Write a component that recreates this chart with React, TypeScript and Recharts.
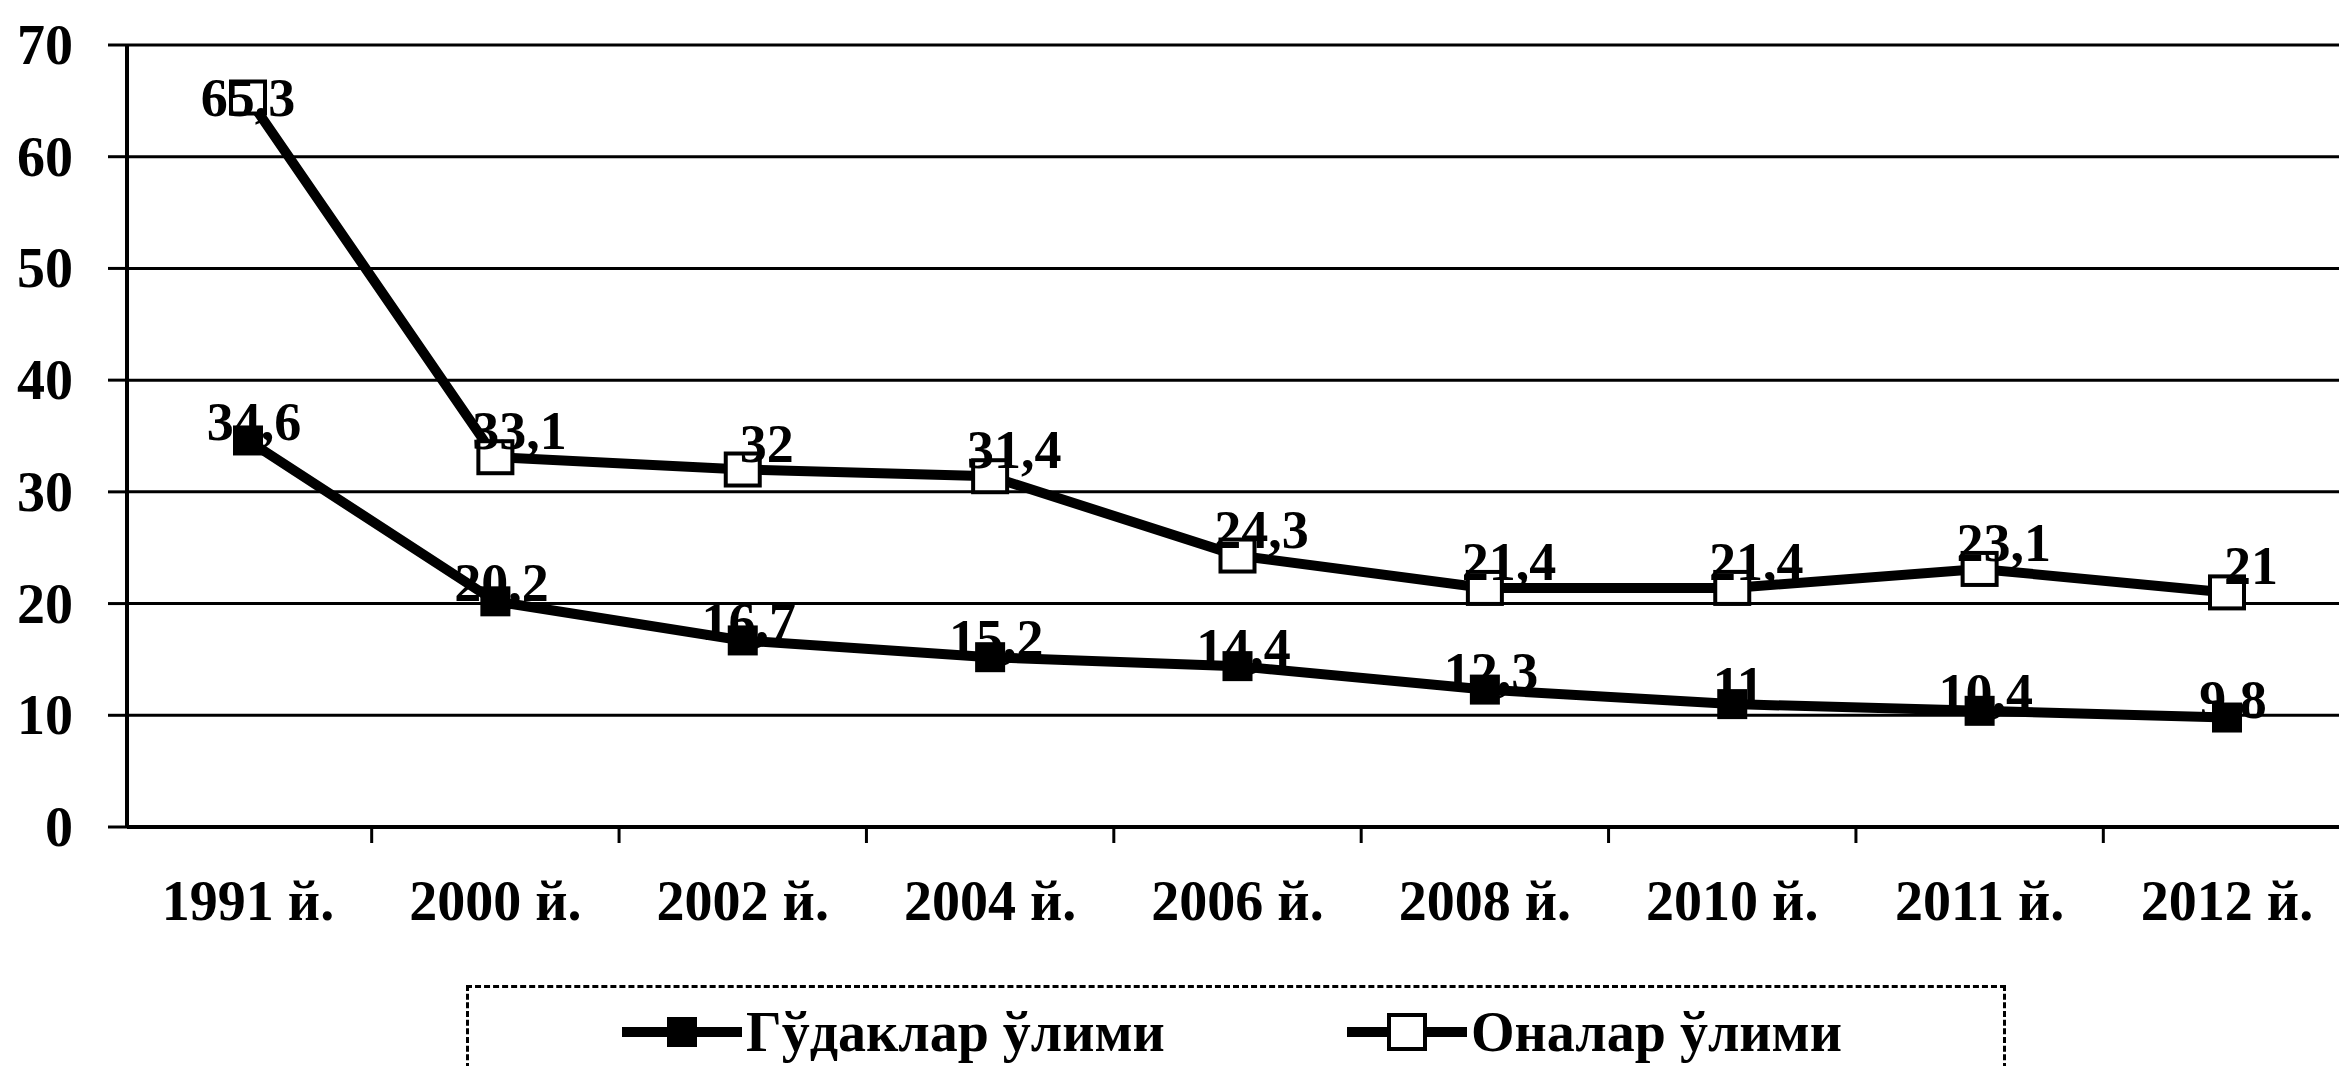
import { LineChart, Line, XAxis, YAxis, CartesianGrid, Legend, LabelList } from 'recharts';

const years = ['1991 й.', '2000 й.', '2002 й.', '2004 й.', '2006 й.', '2008 й.', '2010 й.', '2011 й.', '2012 й.'];
const infantDeaths = [34.6, 20.2, 16.7, 15.2, 14.4, 12.3, 11, 10.4, 9.8];
const maternalDeaths = [65.3, 33.1, 32, 31.4, 24.3, 21.4, 21.4, 23.1, 21];
const yTicks = [0, 10, 20, 30, 40, 50, 60, 70];

const INFANT = 'Гўдаклар ўлими';
const MATERNAL = 'Оналар ўлими';

const data = years.map((year, i) => ({
  year,
  infant: infantDeaths[i],
  maternal: maternalDeaths[i],
}));

const W = 2339;
const H = 1066;
const TOP = 45;
const Y_AXIS_W = 127;
const PAD_L = 121;
const PAD_R = 112;
const STEP = (W - Y_AXIS_W - PAD_L - PAD_R) / (years.length - 1);
const FONT = '"Liberation Serif", "Times New Roman", serif';

const fmt = (v: number) => String(v).replace('.', ',');

const XTick = (props: any) => {
  const { x, y, payload, index } = props;
  return (
    <g>
      {index > 0 && <line x1={x - STEP / 2} x2={x - STEP / 2} y1={y} y2={y + 14} stroke="#000" strokeWidth={3} />}
      <text
        x={x}
        y={y + 72}
        textAnchor="middle"
        dominantBaseline="central"
        fontFamily={FONT}
        fontWeight="bold"
        fontSize={56}
        fill="#000"
      >
        {payload.value}
      </text>
    </g>
  );
};

const YTick = (props: any) => {
  const { x, y, payload } = props;
  return (
    <text x={x} y={y} textAnchor="end" dominantBaseline="central" fontFamily={FONT} fontWeight="bold" fontSize={56} fill="#000">
      {payload.value}
    </text>
  );
};

// label sits above-right of the point; if that would run into the top of the plot it is centred on the marker
const makeLabel = (dx: number, dy: number) => (props: any) => {
  const { x, y, value } = props;
  const tooHigh = y + dy < TOP + 50;
  return (
    <text
      x={tooHigh ? x : x + dx}
      y={tooHigh ? y : y + dy}
      textAnchor="middle"
      dominantBaseline="central"
      fontFamily={FONT}
      fontWeight="bold"
      fontSize={54}
      fill="#000"
    >
      {fmt(value)}
    </text>
  );
};

const InfantLabel = makeLabel(6, -18);
const MaternalLabel = makeLabel(24, -26);

const FilledDot = (props: any) => {
  const { cx, cy } = props;
  return <rect x={cx - 15} y={cy - 15} width={30} height={30} fill="#000" />;
};

const HollowDot = (props: any) => {
  const { cx, cy } = props;
  return <rect x={cx - 17} y={cy - 16} width={34} height={32} fill="#fff" stroke="#000" strokeWidth={4} />;
};

const LegendBox = () => (
  <div
    style={{
      width: 1540,
      height: 110,
      border: '3px dashed #000',
      boxSizing: 'border-box',
      position: 'relative',
      fontFamily: FONT,
      fontWeight: 'bold',
      fontSize: 56,
      color: '#000',
    }}
  >
    {[
      { name: INFANT, left: 153, filled: true },
      { name: MATERNAL, left: 878, filled: false },
    ].map((item) => (
      <div key={item.name} style={{ position: 'absolute', left: item.left, top: 12, display: 'flex', alignItems: 'center', whiteSpace: 'nowrap' }}>
        <svg width={120} height={40}>
          <line x1={0} x2={120} y1={20} y2={20} stroke="#000" strokeWidth={10} />
          {item.filled ? (
            <rect x={45} y={5} width={30} height={30} fill="#000" />
          ) : (
            <rect x={42} y={3} width={36} height={34} fill="#fff" stroke="#000" strokeWidth={4} />
          )}
        </svg>
        <span style={{ marginLeft: 4, lineHeight: '64px' }}>{item.name}</span>
      </div>
    ))}
  </div>
);

export default function App() {
  return (
    <div style={{ position: 'absolute', left: 0, top: 0, width: W, height: H, background: '#fff', overflow: 'hidden' }}>
      <LineChart width={W} height={H} data={data} margin={{ top: TOP, right: 0, left: 0, bottom: 119 }}>
        <CartesianGrid vertical={false} stroke="#000" strokeWidth={3} />
        <XAxis
          dataKey="year"
          scale="point"
          padding={{ left: PAD_L, right: PAD_R }}
          axisLine={{ stroke: '#000', strokeWidth: 4 }}
          tickLine={false}
          tickSize={0}
          tick={<XTick />}
          interval={0}
          height={120}
        />
        <YAxis
          domain={[0, 70]}
          ticks={yTicks}
          width={Y_AXIS_W}
          axisLine={{ stroke: '#000', strokeWidth: 4 }}
          tickLine={{ stroke: '#000', strokeWidth: 3 }}
          tickSize={19}
          tickMargin={35}
          tick={<YTick />}
        />
        <Legend
          layout="vertical"
          align="center"
          verticalAlign="middle"
          wrapperStyle={{ position: 'absolute', left: 466, top: 985, width: 1540 }}
          content={<LegendBox />}
        />
        <Line
          dataKey="infant"
          name={INFANT}
          type="linear"
          stroke="#000"
          strokeWidth={10}
          dot={<FilledDot />}
          isAnimationActive={false}
        >
          <LabelList dataKey="infant" content={<InfantLabel />} />
        </Line>
        <Line
          dataKey="maternal"
          name={MATERNAL}
          type="linear"
          stroke="#000"
          strokeWidth={10}
          dot={<HollowDot />}
          isAnimationActive={false}
        >
          <LabelList dataKey="maternal" content={<MaternalLabel />} />
        </Line>
      </LineChart>
    </div>
  );
}
